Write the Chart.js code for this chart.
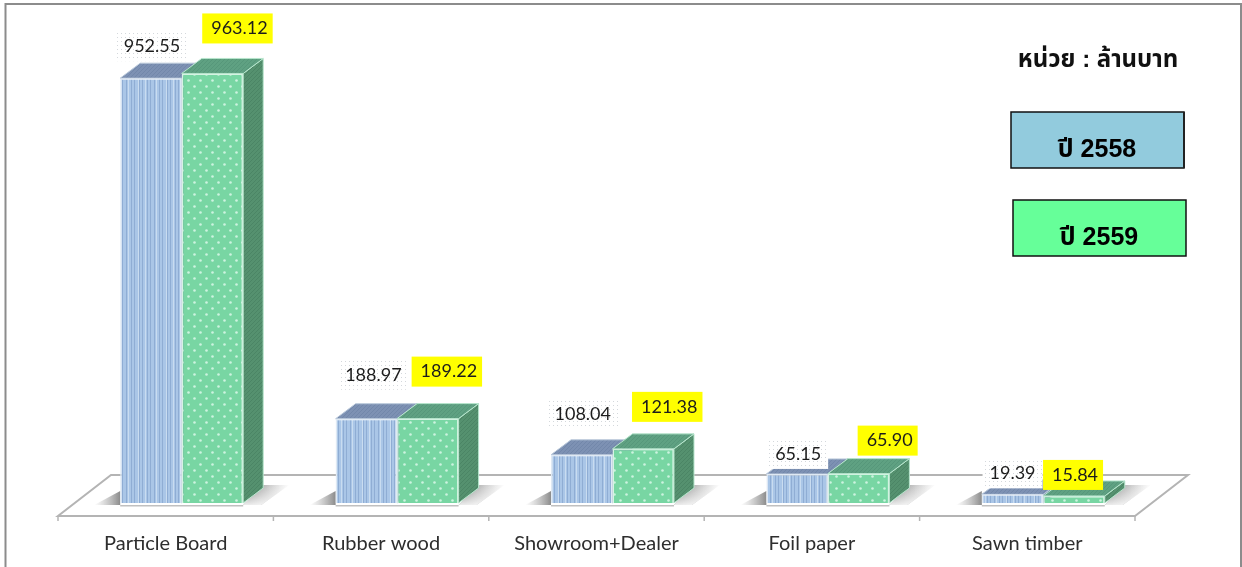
<!DOCTYPE html>
<html>
<head>
<meta charset="utf-8">
<style>
html,body{margin:0;padding:0;background:#fff;overflow:hidden}
canvas{display:block}
</style>
<script src="https://cdn.jsdelivr.net/npm/chart.js@4"></script>
</head>
<body>
<canvas id="c" width="1242" height="567"></canvas>
<script>
const categories = ['Particle Board','Rubber wood','Showroom+Dealer','Foil paper','Sawn timber'];
const values2558 = [952.55,188.97,108.04,65.15,19.39];
const values2559 = [963.12,189.22,121.38,65.90,15.84];
const seriesNames = ['ปี 2558','ปี 2559'];
const unitText = 'หน่วย : ล้านบาท';
// label nudges from the bar's top centre
const labelNudge2558 = [[1,-32],[7,-44],[1,-41],[1,-20],[0,-21]];
const labelNudge2559 = [[27,-45],[21,-47],[26,-42],[31,-33],[1,-21]];

const DX = 20, DY = 15;
const FONT = 'Lato, "Open Sans", sans-serif';
const THAI = '"Liberation Sans","Noto Sans Thai","DejaVu Sans",sans-serif';

function tile(w,h,paint){
  const t=document.createElement('canvas');t.width=w;t.height=h;
  paint(t.getContext('2d'),w,h);
  return document.getElementById('c').getContext('2d').createPattern(t,'repeat');
}
const stripes=[0,0,1,0,0,2,0,1,0,0,1,0,0,0,1,0,2,0,0,1,0,0,1,0,0,0,2,1];
const blueFront=tile(stripes.length,4,(g,w,h)=>{
  g.fillStyle='#aac6e7';g.fillRect(0,0,w,h);
  stripes.forEach((s,i)=>{
    if(s===1){g.fillStyle='#8fadd4';g.fillRect(i,0,1,h);}
    if(s===2){g.fillStyle='#c9dcf0';g.fillRect(i,0,1,h);}
  });
});
const dots=(base,dot)=>tile(12,12,(g,w,h)=>{
  g.fillStyle=base;g.fillRect(0,0,w,h);
  g.fillStyle=dot;
  [[2,2],[8,8]].forEach(p=>{g.beginPath();g.arc(p[0]+.5,p[1]+.5,1.3,0,7);g.fill();});
});
const greenFront=dots('#78d6a3','#cdf3df');
const hatch=(base,line)=>tile(4,4,(g,w,h)=>{
  g.fillStyle=base;g.fillRect(0,0,w,h);
  g.fillStyle=line;for(let i=0;i<4;i++)g.fillRect(i,3-i,1,1);
});
const blueTop=hatch('#7d91b3','#7287aa');
const blueSide=hatch('#6f83a3','#66799a');
const greenTop=hatch('#5fa182','#56977a');
const greenSide=hatch('#55916f','#4b8565');
const dottedBox=tile(4,4,(g,w,h)=>{
  g.fillStyle='#ffffff';g.fillRect(0,0,w,h);
  g.fillStyle='#d4d8dc';g.fillRect(1,1,1,1);
});

function poly(ctx,pts,fill,stroke){
  ctx.beginPath();pts.forEach((p,i)=>i?ctx.lineTo(p[0],p[1]):ctx.moveTo(p[0],p[1]));ctx.closePath();
  ctx.fillStyle=fill;ctx.fill();
  if(stroke){ctx.strokeStyle=stroke;ctx.lineWidth=1;ctx.stroke();}
}
function box3d(ctx,bar,top,side,edge){
  const l=bar.x-bar.width/2,r=bar.x+bar.width/2,t=bar.y,b=bar.base;
  poly(ctx,[[r,t],[r+DX,t-DY],[r+DX,b-DY],[r,b]],side,edge);
  poly(ctx,[[l,t],[l+DX,t-DY],[r+DX,t-DY],[r,t]],top,edge);
}

const scene={
  id:'scene',
  beforeDatasetsDraw(chart){
    const ctx=chart.ctx,{x,y}=chart.scales;
    const y0=y.getPixelForValue(0);
    const L=x.left-16,R=x.right-16,F=y0+13;
    ctx.save();
    // frame
    ctx.strokeStyle='#8c8c8c';ctx.lineWidth=2;
    ctx.beginPath();ctx.moveTo(5.5,567);ctx.lineTo(5.5,4);ctx.lineTo(1241,4);ctx.lineTo(1241,567);ctx.stroke();
    // floor
    ctx.strokeStyle='#b4b4b4';ctx.lineWidth=2;
    ctx.beginPath();ctx.moveTo(L,F);ctx.lineTo(R,F);ctx.lineTo(R+53,F-41);ctx.lineTo(L+53,F-41);ctx.closePath();ctx.stroke();
    // ticks
    ctx.lineWidth=1.5;
    for(let i=0;i<=categories.length;i++){
      const tx=L+(R-L)*i/categories.length;
      ctx.beginPath();ctx.moveTo(tx,F);ctx.lineTo(tx,F+5);ctx.stroke();
    }
    // shadows
    const blue=chart.getDatasetMeta(0).data, green=chart.getDatasetMeta(1).data;
    categories.forEach((_,i)=>{
      const l=blue[i].x-blue[i].width/2, r=green[i].x+green[i].width/2, b=y0+2;
      let g=ctx.createLinearGradient(l-26,0,l,0);
      g.addColorStop(0,'rgba(150,150,150,0)');g.addColorStop(1,'rgba(100,100,100,.75)');
      poly(ctx,[[l-26,b],[l,b],[l,b-14]],g);
      g=ctx.createLinearGradient(r+6,0,r+46,0);
      g.addColorStop(0,'rgba(100,100,100,.8)');g.addColorStop(1,'rgba(150,150,150,0)');
      poly(ctx,[[r,b],[r+20,b-20],[r+46,b-20],[r+18,b]],g);
      // fade the right shadow towards the viewer
      g=ctx.createLinearGradient(0,b-20,0,b);
      g.addColorStop(0,'rgba(255,255,255,0)');g.addColorStop(1,'rgba(255,255,255,.85)');
      poly(ctx,[[r,b],[r+20,b-20],[r+46,b-20],[r+18,b]],g);
      ctx.fillStyle='#c0c0c0';ctx.fillRect(l,b,r-l,1.5);
    });
    // back series solids sit behind the front series
    blue.forEach(bar=>box3d(ctx,bar,blueTop,blueSide,'#b9c8da'));
    ctx.restore();
  },
  afterDatasetsDraw(chart){
    const ctx=chart.ctx;
    const blue=chart.getDatasetMeta(0).data, green=chart.getDatasetMeta(1).data;
    ctx.save();
    green.forEach(bar=>box3d(ctx,bar,greenTop,greenSide,'#b7e6cd'));
    // value labels
    ctx.font='18px '+FONT;ctx.textAlign='center';ctx.textBaseline='middle';
    const label=(bar,val,n,fill,hh,boxDx)=>{
      const cx=bar.x+n[0],cy=bar.y+n[1],txt=val.toFixed(2);
      const hw=ctx.measureText(txt).width/2+7;
      ctx.fillStyle=fill;ctx.fillRect(cx-hw+boxDx,cy-hh,hw*2,hh*2);
      ctx.fillStyle='#1c1c1c';ctx.fillText(txt,cx,cy);
    };
    blue.forEach((b,i)=>label(b,values2558[i],labelNudge2558[i],dottedBox,15,0));
    green.forEach((b,i)=>label(b,values2559[i],labelNudge2559[i],'#ffff00',15,-2));
    // unit + legend
    ctx.fillStyle='#111';ctx.font='bold 24px '+THAI;
    ctx.fillText(unitText,1098,60);
    const key=(i,kx,ky,fill)=>{
      ctx.fillStyle=fill;ctx.fillRect(kx,ky,173,56);
      ctx.strokeStyle='#111';ctx.lineWidth=1.5;ctx.strokeRect(kx,ky,173,56);
      ctx.fillStyle='#000';ctx.font='bold 25px '+THAI;
      ctx.fillText(seriesNames[i],kx+86,ky+38);
    };
    key(0,1011,112,'#92cbdd');
    ctx.fillStyle='#222';ctx.fillRect(1183,112,2,56);
    key(1,1013,200,'#66ff99');
    ctx.restore();
  }
};

new Chart(document.getElementById('c'),{
  type:'bar',
  data:{labels:categories,datasets:[
    {label:seriesNames[0],data:values2558,backgroundColor:blueFront,borderColor:'#dfe9f4',borderWidth:1.5},
    {label:seriesNames[1],data:values2559,backgroundColor:greenFront,borderColor:'#d6f3e3',borderWidth:1.5}
  ]},
  options:{
    responsive:false,animation:false,
    layout:{padding:{left:74,right:91,top:57,bottom:0}},
    datasets:{bar:{categoryPercentage:0.571,barPercentage:1}},
    plugins:{legend:{display:false},tooltip:{enabled:false}},
    scales:{
      x:{
        grid:{display:false},border:{display:false},
        afterFit(s){s.height=64;},
        ticks:{color:'#2e2e2e',font:{family:FONT,size:20},padding:21,labelOffset:-16,maxRotation:0,autoSkip:false}
      },
      y:{display:false,min:0,max:1000}
    }
  },
  plugins:[scene]
});
</script>
</body>
</html>
